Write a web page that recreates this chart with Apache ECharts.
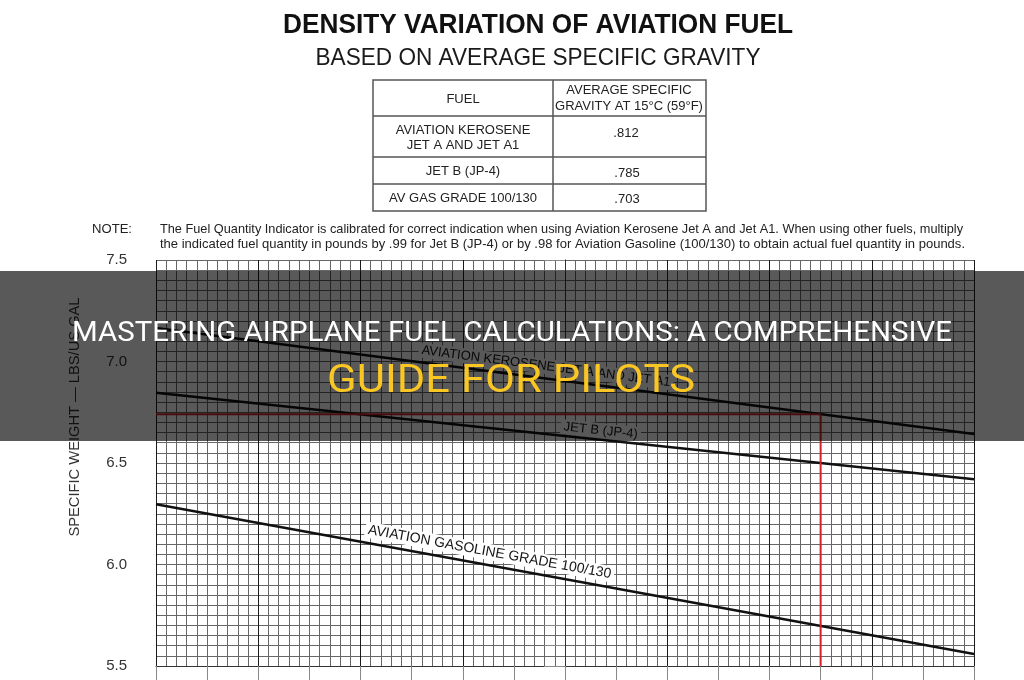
<!DOCTYPE html>
<html><head><meta charset="utf-8">
<script src="https://cdn.jsdelivr.net/npm/echarts@6/dist/echarts.min.js"></script>
<style>html,body{margin:0;padding:0;background:#fff}#c{width:1024px;height:680px}</style>
</head><body><div id="c"></div>
<script>
// ---------- data ----------
const temperatures = [-40, 40];                 // fuel temperature, degrees C (x extent)
const keroseneWeights = [7.165, 6.643];         // lbs / US gal
const jetBWeights = [6.846, 6.420];
const avgasWeights = [6.297, 5.559];
const guideTemps = [-40, 25, 25];
const guideWeights = [6.74, 6.74, 5.5];
const yTickLabels = ['5.5', '6.0', '6.5', '7.0', '7.5'];
const seriesNames = ['AVIATION KEROSENE JET A AND JET A1', 'JET B (JP-4)', 'AVIATION GASOLINE GRADE 100/130'];
const tableHeader = ['FUEL', 'AVERAGE SPECIFIC', 'GRAVITY AT 15°C (59°F)'];
const tableFuels = [['AVIATION KEROSENE', 'JET A AND JET A1'], ['JET B (JP-4)'], ['AV GAS GRADE 100/130']];
const tableGravity = ['.812', '.785', '.703'];
const titleText = 'DENSITY VARIATION OF AVIATION FUEL';
const subtitleText = 'BASED ON AVERAGE SPECIFIC GRAVITY';
const noteLabel = 'NOTE:';
const noteLines = [
  'The Fuel Quantity Indicator is calibrated for correct indication when using Aviation Kerosene Jet A and Jet A1. When using other fuels, multiply',
  'the indicated fuel quantity in pounds by .99 for Jet B (JP-4) or by .98 for Aviation Gasoline (100/130) to obtain actual fuel quantity in pounds.'
];
const yAxisTitle = 'SPECIFIC WEIGHT — LBS/US GAL';
const bannerLines = ['MASTERING AIRPLANE FUEL CALCULATIONS: A COMPREHENSIVE', 'GUIDE FOR PILOTS'];

// ---------- helpers ----------
const mctx = document.createElement('canvas').getContext('2d');
function fit(text, font, w) { mctx.font = font; return w / mctx.measureText(text).width; }
function T(text, x, y, font, fill, opts) {
  opts = opts || {};
  const el = {
    type: 'text', x: x, y: y, z: opts.z == null ? 5 : opts.z,
    silent: true,
    scaleX: opts.width ? fit(text, font, opts.width) : 1,
    rotation: opts.rotation || 0,
    style: { text: text, font: font, fill: fill, textAlign: opts.align || 'center', textVerticalAlign: 'middle' }
  };
  if (opts.bg) { el.style.backgroundColor = opts.bg; el.style.padding = [1, 3]; }
  return el;
}

const chart = echarts.init(document.getElementById('c'));
const GRAY = '#666666';
const option = {
  animation: false,
  backgroundColor: '#ffffff',
  grid: { left: 156, right: 50, top: 260, bottom: 14 },
  xAxis: [{
    type: 'value', min: temperatures[0], max: temperatures[1], interval: 5,
    axisLine: { show: true, lineStyle: { color: '#333', width: 1 } },
    axisTick: { show: true, length: 16, lineStyle: { color: '#888' } },
    axisLabel: { show: false },
    splitLine: { show: true, lineStyle: { color: GRAY, width: 1 } },
    minorTick: { show: false, splitNumber: 5 },
    minorSplitLine: { show: true, lineStyle: { color: GRAY, width: 1 } }
  }, {
    type: 'value', min: temperatures[0], max: temperatures[1], interval: 10, position: 'bottom',
    axisLine: { show: false }, axisTick: { show: false }, axisLabel: { show: false },
    splitLine: { show: true, lineStyle: { color: '#1a1a1a', width: 1 } }
  }],
  yAxis: {
    type: 'value', min: 5.5, max: 7.5, interval: 0.1,
    axisLine: { show: true, lineStyle: { color: '#333' } },
    axisTick: { show: true, length: 21, lineStyle: { color: '#888' } },
    axisLabel: {
      margin: 29, color: '#333', fontSize: 15, fontFamily: 'Liberation Sans',
      formatter: function (v) { const s = v.toFixed(1); return yTickLabels.indexOf(s) >= 0 && Math.abs(v * 2 - Math.round(v * 2)) < 1e-6 ? s : ''; }
    },
    splitLine: { show: true, lineStyle: { color: GRAY, width: 1 } },
    minorTick: { show: false, splitNumber: 2 },
    minorSplitLine: { show: true, lineStyle: { color: GRAY, width: 1 } }
  },
  series: [
    { name: seriesNames[0], type: 'line', data: temperatures.map((t, i) => [t, keroseneWeights[i]]) },
    { name: seriesNames[1], type: 'line', data: temperatures.map((t, i) => [t, jetBWeights[i]]) },
    { name: seriesNames[2], type: 'line', data: temperatures.map((t, i) => [t, avgasWeights[i]]) },
    { name: 'guide', type: 'line', data: guideTemps.map((t, i) => [t, guideWeights[i]]),
      lineStyle: { color: '#d2232a', width: 2 }, z: 4 }
  ].map(s => Object.assign({ symbol: 'none', silent: true, z: 3, lineStyle: { color: '#111', width: 2.5 } }, s))
};
chart.setOption(option);

// ---------- labels along lines ----------
const lineVals = [keroseneWeights, jetBWeights, avgasWeights];
function lineLabel(idx, atTemp, offset, size) {
  const ys = lineVals[idx];
  const p0 = chart.convertToPixel({ seriesIndex: idx }, [temperatures[0], ys[0]]);
  const p1 = chart.convertToPixel({ seriesIndex: idx }, [temperatures[1], ys[1]]);
  const dx = p1[0] - p0[0], dy = p1[1] - p0[1];
  const th = Math.atan2(dy, dx);
  const f = (atTemp - temperatures[0]) / (temperatures[1] - temperatures[0]);
  const px = p0[0] + f * dx, py = p0[1] + f * dy;
  return T(seriesNames[idx], px + offset * Math.sin(th), py - offset * Math.cos(th),
    size + 'px "Liberation Sans"', '#151515', { rotation: -th, z: 1, bg: '#ffffff' });
}

const g = [];
// title & subtitle
g.push(T(titleText, 538, 25, 'bold 28px "Liberation Sans"', '#111', { width: 510 }));
g.push(T(subtitleText, 538, 58, '24px "Liberation Sans"', '#1a1a1a', { width: 445 }));
// table
const tx = [373, 553, 706], ty = [80, 116, 157, 184, 211];
g.push({ type: 'rect', z: 5, silent: true, shape: { x: tx[0], y: ty[0], width: tx[2] - tx[0], height: ty[4] - ty[0] }, style: { fill: 'none', stroke: '#555', lineWidth: 1.5 } });
g.push({ type: 'line', z: 5, silent: true, shape: { x1: tx[1], y1: ty[0], x2: tx[1], y2: ty[4] }, style: { stroke: '#555', lineWidth: 1.5 } });
[ty[1], ty[2], ty[3]].forEach(y => g.push({ type: 'line', z: 5, silent: true, shape: { x1: tx[0], y1: y, x2: tx[2], y2: y }, style: { stroke: '#555', lineWidth: 1.5 } }));
const tf = '13px "Liberation Sans"', tc = '#222';
g.push(T(tableHeader[0], 463, 99, tf, tc));
g.push(T(tableHeader[1], 629, 90, tf, tc));
g.push(T(tableHeader[2], 629, 106, tf, tc));
g.push(T(tableFuels[0][0], 463, 130, tf, tc));
g.push(T(tableFuels[0][1], 463, 145, tf, tc));
g.push(T(tableFuels[1][0], 463, 171, tf, tc));
g.push(T(tableFuels[2][0], 463, 198, tf, tc));
g.push(T(tableGravity[0], 626, 133, tf, tc));
g.push(T(tableGravity[1], 627, 173, tf, tc));
g.push(T(tableGravity[2], 627, 199, tf, tc));
// note
const nf = '13px "Liberation Sans"';
g.push(T(noteLabel, 92, 229, nf, '#222', { align: 'left', width: 40 }));
g.push(T(noteLines[0], 160, 229, nf, '#222', { align: 'left', width: 803 }));
g.push(T(noteLines[1], 160, 244, nf, '#222', { align: 'left', width: 805 }));
// y axis title
g.push(T(yAxisTitle, 75, 417, '14px "Liberation Sans"', '#333', { rotation: Math.PI / 2, width: 239 }));
// line labels
g.push(lineLabel(0, -2, 12, 13));
g.push(lineLabel(1, 3.4, 9, 13));
g.push(lineLabel(2, -7.6, 13, 14));
// banner overlay
g.push({ type: 'rect', z: 50, silent: true, shape: { x: 0, y: 271, width: 1024, height: 170 }, style: { fill: 'rgba(0,0,0,0.65)' } });
g.push(T(bannerLines[0], 512, 334, '27px Roboto', '#ffffff', { width: 880, z: 51 }));
g.push(T(bannerLines[1], 511, 382, '38px Roboto', '#f9c623', { width: 368, z: 51 }));

chart.setOption({ graphic: { elements: g } });
</script>
</body></html>
